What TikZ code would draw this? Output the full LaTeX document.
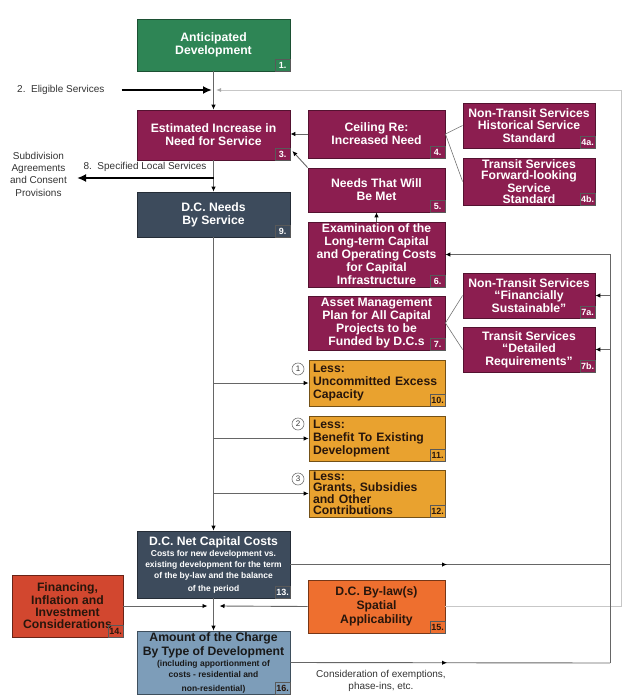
\documentclass[tikz,border=0pt]{standalone}
\usepackage{fontspec}
\setmainfont{Liberation Sans}
\usetikzlibrary{arrows.meta,decorations.markings}

\definecolor{dcgreen}{RGB}{46,133,85}
\definecolor{dcmagenta}{RGB}{140,30,80}
\definecolor{dcslate}{RGB}{61,75,92}
\definecolor{dcorange}{RGB}{233,162,47}
\definecolor{dcred}{RGB}{210,71,47}
\definecolor{dcflame}{RGB}{238,111,47}
\definecolor{dcsteel}{RGB}{125,157,185}
\definecolor{dctext}{RGB}{40,22,12}

\begin{document}
\begin{tikzpicture}[
    x=1pt, y=-1pt,
    >={Latex[length=5pt,width=4.5pt,color=black]},
    box/.style={draw, line width=0.8pt, inner sep=0pt, align=center,
        font=\bfseries\fontsize{12.2}{13}\selectfont},
    gbox/.style={box, fill=dcgreen, draw=dcgreen!60!black, text=white},
    mbox/.style={box, fill=dcmagenta, draw=dcmagenta!60!black, text=white},
    sbox/.style={box, fill=dcslate, draw=dcslate!60!black, text=white},
    obox/.style={box, fill=dcorange, draw=dcorange!50!black, text=dctext,
        align=left, text width=128},
    rbox/.style={box, fill=dcred, draw=dcred!50!black, text=dctext},
    fbox/.style={box, fill=dcflame, draw=dcflame!50!black, text=dctext},
    bbox/.style={box, fill=dcsteel, draw=dcsteel!50!black, text=black!90},
    tag/.style={draw=black!65, line width=0.6pt, inner sep=1pt, anchor=south east,
        minimum width=15, minimum height=12, font=\bfseries\fontsize{9}{9}\selectfont},
    tagw/.style={tag, text=white},
    tagd/.style={tag, text=dctext},
    lbl/.style={inner sep=0pt, text=black!80, font=\fontsize{10}{12}\selectfont},
    circ/.style={circle, draw=black!55, line width=0.6pt, inner sep=0pt,
        minimum size=12, text=black!80, font=\fontsize{8}{8}\selectfont},
    line/.style={draw=black!60, line width=0.9pt},
    twig/.style={draw=black!55, line width=0.6pt},
    heavy/.style={line width=2.2pt, black, -{Latex[length=9pt,width=8pt]}},
    frame/.style={draw=black!22, line width=0.9pt, -{Latex[length=5pt,width=4pt,color=black!35]}},
    midarrow/.style={postaction={decorate}, decoration={markings,
        mark=at position #1 with {\arrow{Latex[length=5pt,width=4.5pt,color=black]}}}}
]
    \useasboundingbox (0,0) rectangle (636,695);

    % Central column
    \node[gbox, minimum width=153, minimum height=52] (b1) at (213.5,45) {Anticipated\\Development};
    \node[mbox, minimum width=153, minimum height=50] (b3) at (213.5,135) {Estimated Increase in\\Need for Service};
    \node[sbox, minimum width=153, minimum height=45] (b9) at (213.5,214.5) {D.C. Needs\\By Service};
    \node[sbox, minimum width=153, minimum height=67, text width=152, align=flush center] (b13) at (213.5,564.5)
        {D.C. Net Capital Costs\par\fontsize{8.5}{11}\selectfont Costs for new development vs.\\existing development for the term\\of the by-law and the balance\\of the period};
    \node[bbox, minimum width=153, minimum height=63, text width=152, align=flush center, font=\bfseries\fontsize{12.2}{14}\selectfont] (b16) at (213.5,662.5)
        {Amount of the Charge\\By Type of Development\par\fontsize{8.5}{11}\selectfont (including apportionment of\\costs - residential and\\non-residential)};
    \node[rbox, minimum width=111, minimum height=62, font=\bfseries\fontsize{12.2}{12.3}\selectfont] (b14) at (67.5,606)
        {Financing,\\Inflation and\\Investment\\Considerations};

    % Second column
    \node[mbox, minimum width=137, minimum height=48] (b4) at (376.5,134) {Ceiling Re:\\Increased Need};
    \node[mbox, minimum width=137, minimum height=44] (b5) at (376.5,190) {Needs That Will\\Be Met};
    \node[mbox, minimum width=137, minimum height=65] (b6) at (376.5,254.5)
        {Examination of the\\Long-term Capital\\and Operating Costs\\for Capital\\Infrastructure};
    \node[mbox, minimum width=137, minimum height=54] (b7) at (376.5,323)
        {Asset Management\\Plan for All Capital\\Projects to be\\Funded by D.C.s};
    \node[obox, minimum width=136, minimum height=46] (b10) at (377,383) {Less:\\Uncommitted Excess\\Capacity};
    \node[obox, minimum width=136, minimum height=45] (b11) at (377,438.5) {Less:\\Benefit To Existing\\Development};
    \node[obox, minimum width=136, minimum height=47, font=\bfseries\fontsize{12.2}{11.5}\selectfont] (b12) at (377,493.5)
        {Less:\\Grants, Subsidies\\and Other\\Contributions};
    \node[fbox, minimum width=137, minimum height=53, font=\bfseries\fontsize{12.2}{14}\selectfont] (b15) at (376.5,606.5)
        {D.C. By-law(s)\\Spatial\\Applicability};

    % Third column
    \node[mbox, minimum width=132, minimum height=45, font=\bfseries\fontsize{12.2}{12.5}\selectfont] (b4a) at (529,125.5)
        {Non-Transit Services\\Historical Service\\Standard};
    \node[mbox, minimum width=132, minimum height=47, font=\bfseries\fontsize{12.2}{11.2}\selectfont] (b4b) at (529,181.5)
        {Transit Services\\Forward-looking\\Service\\Standard};
    \node[mbox, minimum width=132, minimum height=45, font=\bfseries\fontsize{12.2}{12.5}\selectfont] (b7a) at (529,295.5)
        {Non-Transit Services\\“Financially\\Sustainable”};
    \node[mbox, minimum width=132, minimum height=45, font=\bfseries\fontsize{12.2}{12.5}\selectfont] (b7b) at (529,349.5)
        {Transit Services\\“Detailed\\Requirements”};

    % Number tags
    \node[tagw] (t1) at (b1.south east) {1.};
    \node[tagw] (t3) at (b3.south east) {3.};
    \node[tagw] (t4) at (b4.south east) {4.};
    \node[tagw] (t4a) at (b4a.south east) {4a.};
    \node[tagw] (t4b) at (b4b.south east) {4b.};
    \node[tagw] (t5) at (b5.south east) {5.};
    \node[tagw] (t6) at (b6.south east) {6.};
    \node[tagw] (t7) at (b7.south east) {7.};
    \node[tagw] (t7a) at (b7a.south east) {7a.};
    \node[tagw] (t7b) at (b7b.south east) {7b.};
    \node[tagw] (t9) at (b9.south east) {9.};
    \node[tagd] (t10) at (b10.south east) {10.};
    \node[tagd] (t11) at (b11.south east) {11.};
    \node[tagd] (t12) at (b12.south east) {12.};
    \node[tagw] (t13) at (b13.south east) {13.};
    \node[tagd] (t14) at (b14.south east) {14.};
    \node[tagd] (t15) at (b15.south east) {15.};
    \node[tagd] (t16) at (b16.south east) {16.};

    % Side labels
    \node[lbl, anchor=west] (e2) at (17,90) {2.\ \ Eligible Services};
    \node[lbl] (e8) at (145,167) {8.\ \ Specified Local Services};
    \node[lbl, align=center, font=\fontsize{10}{12.3}\selectfont] (sub) at (38.5,174)
        {Subdivision\\Agreements\\and Consent\\Provisions};
    \node[lbl, align=center] (cons) at (381,681) {Consideration of exemptions,\\phase-ins, etc.};
    \node[circ] (n1) at (298,369) {1};
    \node[circ] (n2) at (298,424) {2};
    \node[circ] (n3) at (298,479) {3};

    % Helper points
    \coordinate (c2) at (213.5,90);
    \coordinate (c8) at (213.5,178);
    \coordinate (c8l) at (77,178);
    \coordinate (cm) at (213.5,606);
    \coordinate (fr) at (621,90);
    \coordinate (rx) at (610,663);

    % Main flow
    \draw[line, ->] (b1) -- (b3);
    \draw[heavy] ([xshift=17pt]e2.east) -- ([xshift=-1.5pt]c2);
    \draw[frame] (b15.east) -| (fr) -- ([xshift=2.5pt]c2);
    \draw[line, ->] (b3) -- (b9);
    \draw[heavy] (c8) -- (c8l);
    \draw[line, ->] (b9) -- (b13);
    \draw[line, ->] (b13) -- (b16);
    \draw[line, ->] (b14.east) -- ([xshift=-6pt]cm);
    \draw[line, ->] (b15.west) -- ([xshift=6pt]cm);

    % Deductions
    \draw[line, ->] (b9.south |- b10.west) -- (b10.west);
    \draw[line, ->] (b9.south |- b11.west) -- (b11.west);
    \draw[line, ->] (b9.south |- b12.west) -- (b12.west);

    % Service standards
    \draw[line, ->] (b4.west) -- (b3.east |- b4.west);
    \draw[line, ->] (b5.north west) -- ([shift={(2,16)}]b3.east);
    \draw[line, ->] (b6) -- (b5);
    \draw[twig] (b4.east) -- (b4a.west);
    \draw[twig] (b4.east) -- (b4b.west);
    \draw[twig] (b7.east) -- (b7a.west);
    \draw[twig] (b7.east) -- (b7b.west);

    % Feedback on the right
    \draw[line, midarrow=0.49] (b13.east) -- (b13.east -| rx);
    \draw[line, midarrow=0.49] (b16.east) -- (rx);
    \draw[line, ->] (rx) -- (b6.east -| rx) -- (b6.east);
    \draw[line, ->] (b7a.east -| rx) -- (b7a.east);
    \draw[line, ->] (b7b.east -| rx) -- (b7b.east);
\end{tikzpicture}
\end{document}
